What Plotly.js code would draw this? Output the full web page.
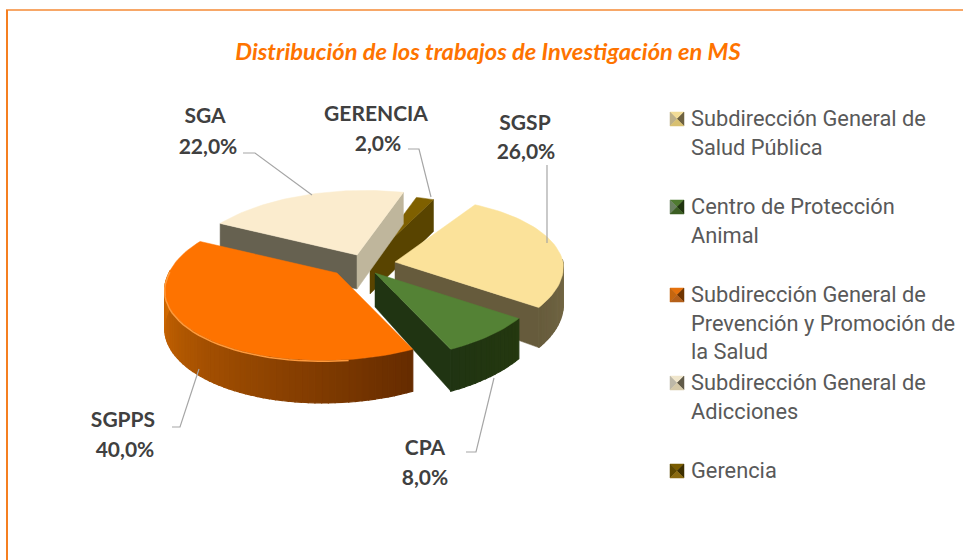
<!DOCTYPE html>
<html><head><meta charset="utf-8">
<script src="https://cdn.plot.ly/plotly-3.0.1.min.js"></script>
<style>html,body{margin:0;padding:0;background:#fff}#c{width:963px;height:560px}</style></head>
<body><div id="c"></div>
<script>
// ---- data ----
const chartTitle = 'Distribución de los trabajos de Investigación en MS';
const legendNames = ['Subdirección General de<br>Salud Pública','Centro de Protección<br>Animal','Subdirección General de<br>Prevención y Promoción de<br>la Salud','Subdirección General de<br>Adicciones','Gerencia'];
const shortNames = ['SGSP','CPA','SGPPS','SGA','GERENCIA'];
const shares = [26, 8, 40, 22, 2];

// ---- styling ----
const topColors = ['#fbe29a','#548235','#fe7300','#fbecce','#7f6000'];
const firstFace = ['#665b3c','#203412','#a04a00','#666150','#594400'];
const lastFace  = ['#665b3c','#203412','#a04a00','#bfb69c','#594400'];
const rimStart  = ['#918258','#24380f','#662c00','#bfb69c','#594400'];
const rimEnd    = ['#665b3c','#203412','#d56c02','#666150','#594400'];
const swatches  = [
 ['#f2dc96','#bdb088','#6d6140','#d8c070'],
 ['#4f7a30','#6a8060','#20340f','#3b5e22'],
 ['#e5710c','#c5660f','#6f3400','#b5601a'],
 ['#f0e6cc','#bdb8a8','#605a48','#d4c8a8'],
 ['#7a5c00','#5e4800','#3d2f00','#8a6a10']];
const labelNameXY = [[525,125],[425,450],[123,422],[205,118],[376,116]];
const labelPctXY  = [[526,154],[425,480],[125,452],[208,149],[378,146]];
const leaders = [
 [[547,165],[547,243]],
 [[466,452],[476,452],[494,378]],
 [[172,427],[180,427],[199,369]],
 [[243,153],[255,153],[312,195]],
 [[408,149],[419,149],[431,197]]];
const apexes = [[395,262],[375,273],[337,273],[357,255],[370,260]];
const RX = 168, RY = 76, PERSP = 0.15, DEPTH = 37, APEX_DEPTH = 34, START = 30;
const SKEW_BACK = 8, SKEW_FRONT = 14;

// ---- projection helpers ----
const rad = d => d*Math.PI/180;
function rimPoint(apex, deg){
  const yn = -Math.cos(rad(deg)), s = 1 + PERSP*yn;
  const skew = yn > 0 ? SKEW_FRONT : SKEW_BACK;
  return {x: apex[0] + RX*Math.sin(rad(deg))*s - skew*yn, y: apex[1] + RY*yn*s, s};
}
const hex = c => [1,3,5].map(i => parseInt(c.substr(i,2),16));
function mix(a,b,t){
  const A = hex(a), B = hex(b);
  return 'rgb(' + A.map((v,i)=>Math.round(v+(B[i]-v)*t)).join(',') + ')';
}
function poly(xs, ys, color, w){
  return {type:'scatter', mode:'lines', x:xs.concat(xs[0]), y:ys.concat(ys[0]), fill:'toself',
          fillcolor:color, line:{color:color, width:w===undefined?0.5:w}, hoverinfo:'skip', showlegend:false};
}

// ---- wedges ----
const spans = [];
let running = START;
shares.forEach(v => { spans.push([running, running + v*3.6]); running += v*3.6; });
const paintOrder = [4,3,0,1,2];
const traces = [];
paintOrder.forEach(i => {
  const [a0,a1] = spans[i], apex = apexes[i];
  const faceVisible = n => -Math.cos(rad(n)) > 0;
  const face = (deg, color) => {
    const p = rimPoint(apex, deg);
    traces.push(poly([apex[0], p.x, p.x, apex[0]], [apex[1], p.y, p.y+DEPTH*p.s, apex[1]+APEX_DEPTH], color));
  };
  if (faceVisible(a0-90)) face(a0, firstFace[i]);
  if (faceVisible(a1+90)) face(a1, lastFace[i]);
  const step = 2, from = Math.max(a0, 88), to = Math.min(a1, 272);
  for (let t = from; t < to; t += step) {
    const u = Math.min(t+step, to);
    const p = rimPoint(apex,t), q = rimPoint(apex,u);
    const f = (t-a0)/(Math.min(a1,272)-a0);
    traces.push(poly([p.x,q.x,q.x,p.x],[p.y,q.y,q.y+DEPTH*q.s,p.y+DEPTH*p.s], mix(rimStart[i],rimEnd[i],f), 1.2));
  }
  const xs=[apex[0]], ys=[apex[1]];
  for (let t=a0; t<=a1+0.01; t+=2) { const p=rimPoint(apex,Math.min(t,a1)); xs.push(p.x); ys.push(p.y); }
  const pe = rimPoint(apex,a1); xs.push(pe.x); ys.push(pe.y);
  traces.push(poly(xs,ys,topColors[i]));
  if (i===2) { // light bevel on the front rim of the large slice
    const bx=[],by=[];
    for (let t=a0+20; t<=272; t+=3){const p=rimPoint(apex,t);bx.push(p.x);by.push(p.y+1);}
    traces.push({type:'scatter',mode:'lines',x:bx,y:by,line:{color:'#ff9a3c',width:1.5},hoverinfo:'skip',showlegend:false});
  }
});

// ---- leaders and labels ----
leaders.forEach(l => traces.push({type:'scatter',mode:'lines',x:l.map(p=>p[0]),y:l.map(p=>p[1]),
  line:{color:'#a6a6a6',width:1.2},hoverinfo:'skip',showlegend:false}));
const labelFont = {family:'Lato, Carlito, sans-serif', size:21, color:'#404040'};
traces.push({type:'scatter',mode:'text',x:labelNameXY.map(p=>p[0]),y:labelNameXY.map(p=>p[1]),
  text:shortNames.map(s=>'<b>'+s+'</b>'),textposition:'middle center',textfont:labelFont,hoverinfo:'skip',showlegend:false});
traces.push({type:'scatter',mode:'text',x:labelPctXY.map(p=>p[0]),y:labelPctXY.map(p=>p[1]),
  text:shares.map(v=>'<b>'+v.toFixed(1).replace('.',',')+'%</b>'),textposition:'middle center',textfont:labelFont,hoverinfo:'skip',showlegend:false});

// ---- legend: real legend entries, bevelled swatches drawn beside them ----
const ROW0 = 119, ROWSTEP = 88, SWX = 677, SWH = 7;
legendNames.forEach((n,i) => {
  const y = ROW0 + i*ROWSTEP, c = swatches[i];
  const L=SWX-SWH, R=SWX+SWH, T=y-SWH, B=y+SWH;
  traces.push(poly([L,R,SWX],[T,T,y],c[0]));
  traces.push(poly([L,L,SWX],[T,B,y],c[1]));
  traces.push(poly([R,R,SWX],[T,B,y],c[2]));
  traces.push(poly([L,R,SWX],[B,B,y],c[3]));
  const lines = n.split('<br>').length;
  traces.push({type:'scatter',mode:'markers',x:[null],y:[null],name:n+'<br>&nbsp;'.repeat(3-lines),
    marker:{size:1,color:'rgba(0,0,0,0)'},showlegend:true,hoverinfo:'skip'});
});

const layout = {
  width:963, height:560, margin:{l:0,r:0,t:0,b:0,autoexpand:false},
  paper_bgcolor:'#fff', plot_bgcolor:'#fff',
  title:{text:'<b><i>'+chartTitle+'</i></b>', x:488/963, xanchor:'center', y:1-52/560, yanchor:'middle',
         font:{family:'Lato, Carlito, sans-serif', size:23.7, color:'#fe7300'}},
  xaxis:{range:[0,963],visible:false,fixedrange:true,domain:[0,1]},
  yaxis:{range:[560,0],visible:false,fixedrange:true,domain:[0,1]},
  showlegend:true,
  legend:{x:651/963,xanchor:'left',y:1-97/560,yanchor:'top',valign:'top',itemwidth:30,
          bgcolor:'rgba(0,0,0,0)',tracegroupgap:0,
          font:{family:'Roboto, sans-serif',size:21.8,color:'#595959'}},
  shapes:[
    {type:'line',xref:'x',yref:'y',x0:6,x1:963,y0:10,y1:10,line:{color:'#f58a34',width:1.5}},
    {type:'line',xref:'x',yref:'y',x0:7,x1:7,y0:10,y1:560,line:{color:'#f57f20',width:2}}
  ]
};
Plotly.newPlot('c',traces,layout,{displayModeBar:false,staticPlot:true});
</script></body></html>
